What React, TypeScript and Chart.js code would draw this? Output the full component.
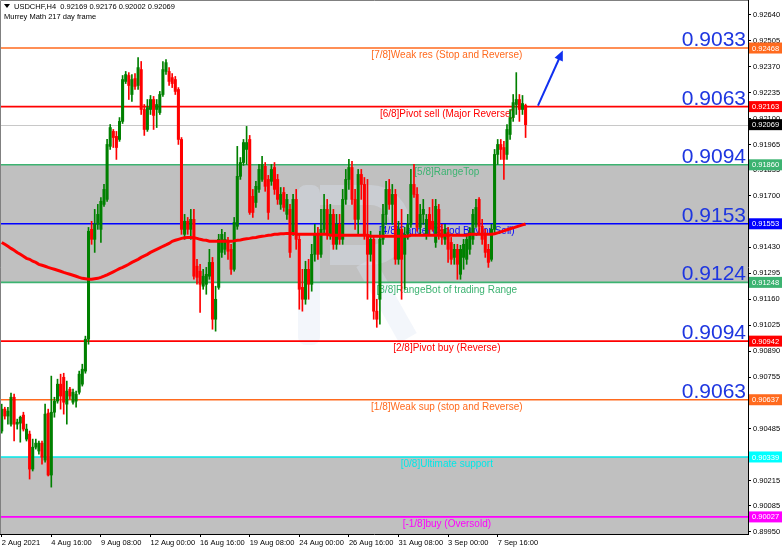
import React, { useEffect, useRef } from "react";
import { Chart, registerables } from "chart.js";
Chart.register(...registerables);

const SYMBOL = "USDCHF,H4";
const SUBTITLE = "Murrey Math 217 day frame";

const X_TICK_BARS = [0, 16, 32, 48, 64, 80, 96, 112, 128, 144, 160];
const X_TICK_LABELS = ["2 Aug 2021", "4 Aug 16:00", "9 Aug 08:00", "12 Aug 00:00", "16 Aug 16:00", "19 Aug 08:00", "24 Aug 00:00", "26 Aug 16:00", "31 Aug 08:00", "3 Sep 00:00", "7 Sep 16:00"];
const Y_TICKS = [0.9264, 0.92505, 0.9237, 0.92235, 0.921, 0.91965, 0.91835, 0.917, 0.91565, 0.9143, 0.91295, 0.9116, 0.91025, 0.9089, 0.90755, 0.9062, 0.90485, 0.9035, 0.90215, 0.90085, 0.8995];

const OPEN = [
  0.90474,0.90588,0.90552,0.90510,0.90650,0.90510,0.90515,0.90557,0.90432,0.90458,
  0.90276,0.90390,0.90370,0.90411,0.90323,0.90567,0.90245,0.90572,0.90630,0.90718,
  0.90754,0.90614,0.90692,0.90624,0.90630,0.90676,0.90718,0.90786,0.90952,0.91524,
  0.91472,0.91550,0.91524,0.91654,0.91680,0.91956,0.92034,0.92008,0.91992,0.92086,
  0.92294,0.92325,0.92226,0.92309,0.92273,0.92356,0.92148,0.92044,0.92148,0.92200,
  0.92148,0.92132,0.92226,0.92346,0.92346,0.92314,0.92304,0.92252,0.91992,0.91498,
  0.91566,0.91524,0.91576,0.91332,0.91306,0.91228,0.91238,0.91280,0.91352,0.91056,
  0.91222,0.91404,0.91420,0.91462,0.91420,0.91316,0.91540,0.91800,0.91872,0.91940,
  0.91992,0.91696,0.91664,0.91732,0.91784,0.91852,0.91784,0.91774,0.91846,0.91784,
  0.91654,0.91716,0.91602,0.91628,0.91508,0.91680,0.91472,0.91222,0.91160,0.91316,
  0.91238,0.91394,0.91498,0.91394,0.91524,0.91628,0.91498,0.91602,0.91446,0.91550,
  0.91472,0.91680,0.91784,0.91846,0.91680,0.91576,0.91810,0.91758,0.91498,0.91394,
  0.91472,0.91098,0.91160,0.91472,0.91602,0.91732,0.91654,0.91706,0.91368,0.91524,
  0.91394,0.91498,0.91550,0.91758,0.91706,0.91534,0.91602,0.91498,0.91602,0.91566,
  0.91456,0.91628,0.91524,0.91472,0.91508,0.91456,0.91378,0.91420,0.91290,0.91378,
  0.91368,0.91420,0.91472,0.91550,0.91680,0.91540,0.91498,0.91420,0.91368,0.91524,
  0.91914,0.91966,0.91950,0.91914,0.92018,0.92106,0.92174,0.92200,0.92148,0.92169,
];
const HIGH = [
  0.90614,0.90598,0.90598,0.90671,0.90666,0.90536,0.90552,0.90572,0.90510,0.90474,
  0.90432,0.90432,0.90422,0.90422,0.90614,0.90588,0.90760,0.90650,0.90744,0.90770,
  0.90775,0.90734,0.90702,0.90692,0.90682,0.90786,0.90822,0.90968,0.91534,0.91566,
  0.91628,0.91654,0.91690,0.91758,0.91992,0.92070,0.92044,0.92034,0.92106,0.92325,
  0.92346,0.92340,0.92330,0.92335,0.92418,0.92398,0.92174,0.92200,0.92221,0.92216,
  0.92200,0.92242,0.92398,0.92408,0.92366,0.92335,0.92320,0.92262,0.92002,0.91602,
  0.91586,0.91628,0.91628,0.91368,0.91342,0.91316,0.91326,0.91420,0.91378,0.91228,
  0.91498,0.91524,0.91508,0.91482,0.91446,0.91586,0.91956,0.91898,0.91992,0.92060,
  0.92013,0.91732,0.91774,0.91862,0.91904,0.91872,0.91805,0.91862,0.91872,0.91810,
  0.91742,0.91742,0.91706,0.91654,0.91706,0.91732,0.91498,0.91316,0.91358,0.91368,
  0.91446,0.91550,0.91534,0.91628,0.91706,0.91680,0.91654,0.91628,0.91602,0.91602,
  0.91732,0.91836,0.91888,0.91878,0.91732,0.91836,0.91836,0.91794,0.91784,0.91514,
  0.91493,0.91160,0.91514,0.91654,0.91774,0.91784,0.91758,0.91732,0.91566,0.91628,
  0.91534,0.91602,0.91836,0.91862,0.91742,0.91654,0.91680,0.91602,0.91638,0.91680,
  0.91680,0.91654,0.91550,0.91550,0.91534,0.91482,0.91446,0.91446,0.91441,0.91472,
  0.91493,0.91534,0.91628,0.91680,0.91690,0.91576,0.91524,0.91446,0.91550,0.91940,
  0.91992,0.91992,0.91982,0.92070,0.92148,0.92226,0.92340,0.92226,0.92221,0.92176,
];
const LOW = [
  0.90463,0.90536,0.90510,0.90500,0.90422,0.90484,0.90416,0.90474,0.90422,0.90224,
  0.90266,0.90380,0.90354,0.90302,0.90312,0.90240,0.90182,0.90546,0.90619,0.90588,
  0.90562,0.90510,0.90640,0.90614,0.90598,0.90666,0.90708,0.90775,0.90926,0.91446,
  0.91404,0.91524,0.91456,0.91644,0.91670,0.91940,0.91950,0.91888,0.91982,0.92075,
  0.92283,0.92200,0.92190,0.92252,0.92252,0.92122,0.92013,0.92034,0.92122,0.92044,
  0.92054,0.92122,0.92216,0.92330,0.92273,0.92262,0.92226,0.91966,0.91498,0.91472,
  0.91498,0.91472,0.91264,0.91238,0.91092,0.91212,0.91186,0.91264,0.91004,0.90994,
  0.91212,0.91378,0.91394,0.91368,0.91290,0.91306,0.91524,0.91784,0.91857,0.91862,
  0.91602,0.91586,0.91638,0.91716,0.91774,0.91722,0.91576,0.91753,0.91706,0.91654,
  0.91628,0.91618,0.91576,0.91378,0.91493,0.91420,0.91108,0.91098,0.91134,0.91160,
  0.91202,0.91358,0.91368,0.91378,0.91498,0.91472,0.91472,0.91420,0.91420,0.91446,
  0.91446,0.91654,0.91732,0.91654,0.91524,0.91498,0.91680,0.91472,0.91160,0.91358,
  0.91056,0.91014,0.91030,0.91446,0.91550,0.91628,0.91550,0.91342,0.91342,0.91160,
  0.91212,0.91472,0.91534,0.91690,0.91514,0.91498,0.91550,0.91472,0.91498,0.91514,
  0.91430,0.91472,0.91446,0.91446,0.91352,0.91342,0.91342,0.91264,0.91264,0.91316,
  0.91342,0.91394,0.91446,0.91534,0.91498,0.91446,0.91378,0.91326,0.91358,0.91498,
  0.91862,0.91888,0.91784,0.91888,0.91992,0.92086,0.92122,0.92086,0.92122,0.92002,
];
const CLOSE = [
  0.90588,0.90552,0.90578,0.90650,0.90510,0.90520,0.90546,0.90484,0.90484,0.90276,
  0.90390,0.90411,0.90411,0.90338,0.90562,0.90245,0.90572,0.90630,0.90718,0.90656,
  0.90624,0.90682,0.90656,0.90676,0.90666,0.90770,0.90796,0.90952,0.91514,0.91472,
  0.91550,0.91602,0.91670,0.91732,0.91966,0.92054,0.92002,0.91950,0.92086,0.92304,
  0.92330,0.92273,0.92304,0.92268,0.92366,0.92148,0.92044,0.92158,0.92200,0.92117,
  0.92174,0.92226,0.92356,0.92392,0.92294,0.92283,0.92242,0.91992,0.91524,0.91566,
  0.91524,0.91576,0.91280,0.91274,0.91238,0.91280,0.91290,0.91352,0.91056,0.91160,
  0.91472,0.91498,0.91472,0.91410,0.91316,0.91560,0.91800,0.91872,0.91976,0.91976,
  0.91612,0.91612,0.91748,0.91836,0.91862,0.91748,0.91612,0.91836,0.91732,0.91680,
  0.91706,0.91638,0.91680,0.91404,0.91680,0.91472,0.91212,0.91160,0.91316,0.91238,
  0.91394,0.91498,0.91394,0.91524,0.91628,0.91498,0.91602,0.91446,0.91550,0.91472,
  0.91680,0.91784,0.91846,0.91680,0.91576,0.91810,0.91758,0.91498,0.91394,0.91472,
  0.91098,0.91056,0.91472,0.91602,0.91732,0.91654,0.91706,0.91368,0.91524,0.91368,
  0.91498,0.91550,0.91758,0.91706,0.91534,0.91602,0.91628,0.91576,0.91524,0.91524,
  0.91644,0.91498,0.91482,0.91524,0.91420,0.91368,0.91420,0.91342,0.91420,0.91446,
  0.91472,0.91508,0.91602,0.91638,0.91540,0.91472,0.91404,0.91352,0.91524,0.91914,
  0.91966,0.91940,0.91888,0.92044,0.92106,0.92184,0.92200,0.92148,0.92179,0.92069,
];
const MA = [
  0.91456,0.91446,0.91436,0.91425,0.91415,0.91404,0.91394,0.91384,0.91373,0.91368,
  0.91358,0.91352,0.91342,0.91337,0.91332,0.91326,0.91321,0.91316,0.91311,0.91306,
  0.91300,0.91295,0.91290,0.91285,0.91280,0.91274,0.91269,0.91267,0.91264,0.91264,
  0.91267,0.91269,0.91274,0.91280,0.91287,0.91295,0.91303,0.91311,0.91319,0.91326,
  0.91334,0.91342,0.91352,0.91360,0.91368,0.91378,0.91386,0.91394,0.91404,0.91412,
  0.91420,0.91428,0.91436,0.91443,0.91451,0.91462,0.91467,0.91472,0.91477,0.91480,
  0.91482,0.91482,0.91480,0.91477,0.91472,0.91469,0.91467,0.91462,0.91462,0.91462,
  0.91462,0.91462,0.91462,0.91462,0.91462,0.91464,0.91467,0.91469,0.91472,0.91475,
  0.91477,0.91480,0.91482,0.91485,0.91488,0.91490,0.91493,0.91495,0.91498,0.91498,
  0.91501,0.91501,0.91503,0.91503,0.91503,0.91498,0.91498,0.91498,0.91498,0.91498,
  0.91498,0.91498,0.91498,0.91498,0.91498,0.91498,0.91493,0.91493,0.91493,0.91493,
  0.91493,0.91493,0.91493,0.91493,0.91493,0.91493,0.91493,0.91493,0.91493,0.91488,
  0.91488,0.91488,0.91488,0.91488,0.91488,0.91488,0.91488,0.91488,0.91488,0.91488,
  0.91488,0.91488,0.91493,0.91493,0.91493,0.91493,0.91493,0.91493,0.91493,0.91493,
  0.91493,0.91493,0.91493,0.91493,0.91493,0.91493,0.91493,0.91493,0.91493,0.91493,
  0.91493,0.91498,0.91498,0.91498,0.91498,0.91498,0.91498,0.91498,0.91498,0.91501,
  0.91506,0.91511,0.91516,0.91522,0.91527,0.91532,0.91537,0.91542,0.91547,0.91552,
];

const LEVELS = [0.92468, 0.92163, 0.9186, 0.91553, 0.91248, 0.90942, 0.90637, 0.90339, 0.90027];
const LEVEL_NAMES = [
  "[7/8]Weak res (Stop and Reverse)",
  "[6/8]Pivot sell (Major Reverse)",
  "[5/8]RangeTop",
  "[4/8]Cancel (Good Buy or Sell)",
  "[3/8]RangeBot of trading Range",
  "[2/8]Pivot buy (Reverse)",
  "[1/8]Weak sup (stop and Reverse)",
  "[0/8]Ultimate support",
  "[-1/8]buy (Oversold)",
];
const LEVEL_COLORS = ["#FF6A1E", "#FF0000", "#3CB371", "#0000FF", "#3CB371", "#FF0000", "#FF6A1E", "#00E8E8", "#FF00FF"];
const BIG_LABELS = ["0.9033", "0.9063", "0.9094", "0.9153", "0.9124", "0.9094", "0.9063"];
const ZONES = [[0.9186, 0.91248], [0.90339, 0.89717]];
const ARROW_X = [173, 181];
const ARROW_Y = [0.92168, 0.92455];
const LABEL_BAR = 143.6;

const UP = "#008000";
const DOWN = "#FF0000";
const AXIS_FONT = "Liberation Sans";

export default function App() {
  const ref = useRef<HTMLCanvasElement | null>(null);
  useEffect(() => {
    const canvas = ref.current;
    if (!canvas) return;
    const n = OPEN.length;
    const colors = OPEN.map((o, i) => (CLOSE[i] >= o ? UP : DOWN));
    const bodies = OPEN.map((o, i) => ({ x: i, y: [o, CLOSE[i]] }));
    const wicks = OPEN.map((_, i) => ({ x: i, y: [LOW[i], HIGH[i]] }));
    const ma = MA.map((v, i) => ({ x: i, y: v }));
    const last = n - 1;
    const current = CLOSE[last];
    const tags = [
      { v: LEVELS[0], bg: LEVEL_COLORS[0] },
      { v: LEVELS[1], bg: LEVEL_COLORS[1] },
      { v: current, bg: "#000000" },
      { v: LEVELS[2], bg: LEVEL_COLORS[2] },
      { v: LEVELS[3], bg: LEVEL_COLORS[3] },
      { v: LEVELS[4], bg: LEVEL_COLORS[4] },
      { v: LEVELS[5], bg: LEVEL_COLORS[5] },
      { v: LEVELS[6], bg: LEVEL_COLORS[6] },
      { v: LEVELS[7], bg: "#00FFFF" },
      { v: LEVELS[8], bg: LEVEL_COLORS[8] },
    ];

    const overlay = {
      id: "mmOverlay",
      beforeDatasetsDraw(chart: any) {
        const { ctx, chartArea: a, scales } = chart;
        const x = scales.x, y = scales.y;
        ctx.save();
        ctx.beginPath();
        ctx.rect(a.left, a.top, a.right - a.left, a.bottom - a.top);
        ctx.clip();
        ctx.fillStyle = "#C0C0C0";
        for (const [hi, lo] of ZONES) {
          const y1 = y.getPixelForValue(hi);
          const y2 = y.getPixelForValue(lo);
          ctx.fillRect(a.left, y1, a.right - a.left, y2 - y1);
        }
        // watermark (behind candles)
        ctx.fillStyle = "rgba(222,230,244,0.35)";
        ctx.strokeStyle = "rgba(222,230,244,0.35)";
        ctx.beginPath();
        ctx.roundRect(298, 185, 22, 160, 8);
        ctx.fill();
        ctx.lineWidth = 20;
        ctx.beginPath();
        ctx.moveTo(320, 195);
        ctx.lineTo(370, 195);
        ctx.arc(370, 225, 30, -Math.PI / 2, Math.PI / 2);
        ctx.lineTo(330, 255);
        ctx.stroke();
        ctx.beginPath();
        ctx.moveTo(365, 262);
        ctx.lineTo(408, 338);
        ctx.stroke();
        // current price line
        const cy = Math.round(y.getPixelForValue(current)) + 0.5;
        ctx.strokeStyle = "#C8C8C8";
        ctx.lineWidth = 1;
        ctx.beginPath();
        ctx.moveTo(a.left, cy);
        ctx.lineTo(a.right, cy);
        ctx.stroke();
        const lx = x.getPixelForValue(LABEL_BAR);
        LEVELS.forEach((v, i) => {
          const py = y.getPixelForValue(v);
          ctx.strokeStyle = LEVEL_COLORS[i];
          ctx.lineWidth = 1.6;
          ctx.beginPath();
          ctx.moveTo(a.left, py);
          ctx.lineTo(a.right, py);
          ctx.stroke();
          ctx.fillStyle = LEVEL_COLORS[i];
          ctx.font = "10px 'Liberation Sans'";
          ctx.textAlign = "center";
          ctx.textBaseline = "middle";
          ctx.fillText(LEVEL_NAMES[i], lx, py + 7.5);
          if (BIG_LABELS[i]) {
            ctx.fillStyle = "#1E36E0";
            ctx.font = "21px 'Liberation Sans'";
            ctx.textAlign = "right";
            ctx.textBaseline = "alphabetic";
            ctx.fillText(BIG_LABELS[i], a.right - 2, py - 2);
          }
        });
        ctx.restore();
      },
      afterDatasetsDraw(chart: any) {
        const { ctx, scales } = chart;
        const x = scales.x, y = scales.y;
        ctx.save();
        const x1 = x.getPixelForValue(ARROW_X[0]);
        const y1 = y.getPixelForValue(ARROW_Y[0]);
        const x2 = x.getPixelForValue(ARROW_X[1]);
        const y2 = y.getPixelForValue(ARROW_Y[1]);
        const ang = Math.atan2(y2 - y1, x2 - x1);
        ctx.strokeStyle = "#1030F0";
        ctx.fillStyle = "#1030F0";
        ctx.lineWidth = 2;
        ctx.beginPath();
        ctx.moveTo(x1, y1);
        ctx.lineTo(x2 - 6 * Math.cos(ang), y2 - 6 * Math.sin(ang));
        ctx.stroke();
        ctx.beginPath();
        ctx.moveTo(x2, y2);
        ctx.lineTo(x2 - 10 * Math.cos(ang) + 4.5 * Math.sin(ang), y2 - 10 * Math.sin(ang) - 4.5 * Math.cos(ang));
        ctx.lineTo(x2 - 10 * Math.cos(ang) - 4.5 * Math.sin(ang), y2 - 10 * Math.sin(ang) + 4.5 * Math.cos(ang));
        ctx.closePath();
        ctx.fill();
        // header
        ctx.fillStyle = "#000";
        ctx.beginPath();
        ctx.moveTo(4, 4);
        ctx.lineTo(10, 4);
        ctx.lineTo(7, 8);
        ctx.closePath();
        ctx.fill();
        ctx.font = `7.5px '${AXIS_FONT}'`;
        ctx.textAlign = "left";
        ctx.textBaseline = "middle";
        const f = (v: number) => v.toFixed(5);
        ctx.fillText(`${SYMBOL}  ${f(OPEN[last])} ${f(HIGH[last])} ${f(LOW[last])} ${f(CLOSE[last])}`, 14, 6.5);
        ctx.fillText(SUBTITLE, 4, 17);
        ctx.restore();
      },
      afterDraw(chart: any) {
        const { ctx, chartArea: a, scales } = chart;
        const y = scales.y;
        ctx.save();
        ctx.strokeStyle = "#808080";
        ctx.lineWidth = 1;
        ctx.beginPath();
        ctx.moveTo(a.left + 0.5, a.bottom);
        ctx.lineTo(a.left + 0.5, a.top + 0.5);
        ctx.lineTo(a.right, a.top + 0.5);
        ctx.stroke();
        ctx.font = `7.5px '${AXIS_FONT}'`;
        ctx.textAlign = "left";
        ctx.textBaseline = "middle";
        for (const t of tags) {
          const py = y.getPixelForValue(t.v);
          ctx.fillStyle = t.bg;
          ctx.fillRect(a.right + 1, py - 5.5, 33, 11);
          ctx.fillStyle = "#FFFFFF";
          ctx.fillText(t.v.toFixed(5), a.right + 4, py + 0.5);
        }
        ctx.restore();
      },
    };

    const chart = new Chart(canvas, {
      type: "bar",
      data: {
        datasets: [
          { type: "line", data: ma, borderColor: "#FF0000", borderWidth: 3, pointRadius: 0, tension: 0, order: 0 } as any,
          { type: "bar", data: bodies, backgroundColor: colors, barThickness: 2.4, grouped: false, order: 1 } as any,
          { type: "bar", data: wicks, backgroundColor: colors, barThickness: 1, grouped: false, order: 2 } as any,
        ],
      },
      options: {
        responsive: false,
        animation: false,
        devicePixelRatio: 1,
        layout: { padding: 0 },
        plugins: { legend: { display: false }, tooltip: { enabled: false } },
        scales: {
          x: {
            type: "linear",
            position: "bottom",
            offset: false,
            min: -0.55,
            max: 240.75,
            afterFit: (s: any) => { s.height = 17; s.paddingLeft = 0; s.paddingRight = 0; },
            afterBuildTicks: (s: any) => { s.ticks = X_TICK_BARS.map((v) => ({ value: v })); },
            ticks: {
              callback: (v: any) => X_TICK_LABELS[X_TICK_BARS.indexOf(Number(v))],
              align: "start",
              color: "#000",
              font: { family: AXIS_FONT, size: 7.5 },
              padding: 1,
              maxRotation: 0,
              autoSkip: false,
            },
            grid: { offset: false, drawOnChartArea: false, drawTicks: true, tickLength: 3, color: "#000" },
            border: { display: true, color: "#000" },
          },
          y: {
            type: "linear",
            position: "right",
            min: 0.89938,
            max: 0.92718,
            afterFit: (s: any) => { s.width = 34; s.paddingTop = 0; s.paddingBottom = 0; },
            afterBuildTicks: (s: any) => { s.ticks = Y_TICKS.map((v) => ({ value: v })); },
            ticks: {
              callback: (v: any) => Number(v).toFixed(5),
              color: "#000",
              font: { family: AXIS_FONT, size: 7.5 },
              padding: 2,
              autoSkip: false,
            },
            grid: { drawOnChartArea: false, drawTicks: true, tickLength: 3, color: "#000" },
            border: { display: true, color: "#000" },
          },
        },
      },
      plugins: [overlay],
    } as any);
    return () => chart.destroy();
  }, []);

  return (
    <div style={{ position: "fixed", left: 0, top: 0, width: 782, height: 551, background: "#fff" }}>
      <canvas ref={ref} width={782} height={551} style={{ width: 782, height: 551, display: "block" }} />
    </div>
  );
}
